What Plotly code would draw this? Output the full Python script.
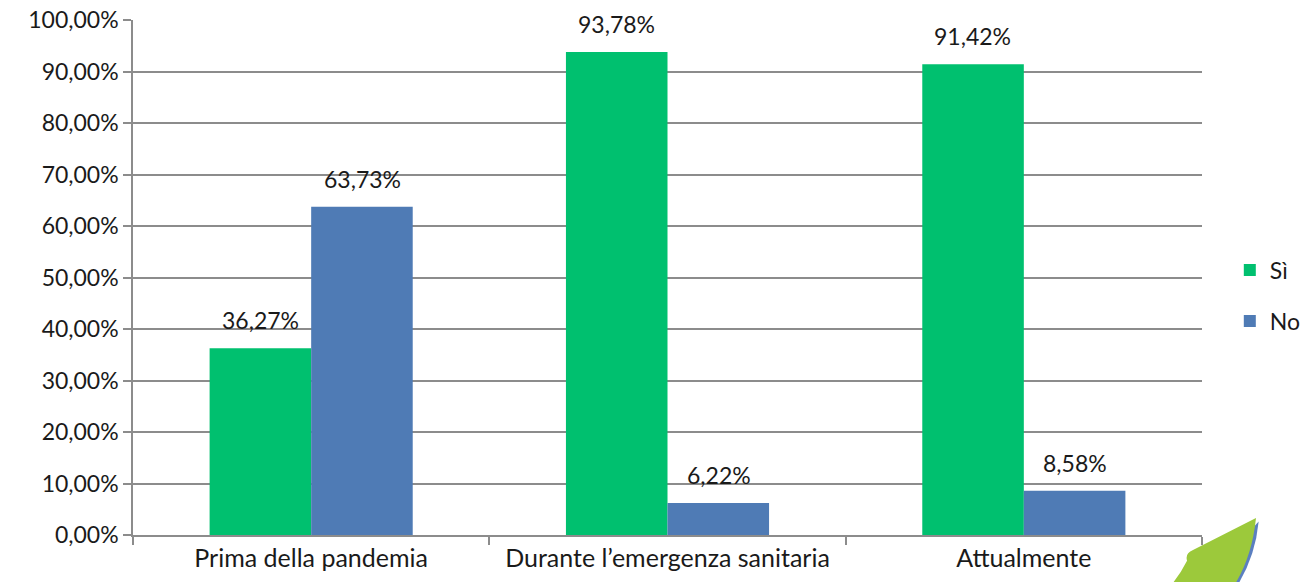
import plotly.graph_objects as go

categories = ["Prima della pandemia", "Durante l\u2019emergenza sanitaria", "Attualmente"]
si_values = [36.27, 93.78, 91.42]
no_values = [63.73, 6.22, 8.58]
y_ticks = [0, 10, 20, 30, 40, 50, 60, 70, 80, 90, 100]


def pct(v):
    return f"{v:.2f}".replace(".", ",") + "%"


FONT = "Lato, 'Noto Sans', sans-serif"
GRID = "#8c8c8c"

fig = go.Figure()
fig.add_trace(go.Bar(
    x=categories, y=si_values, name="S\u00ec",
    marker=dict(color="#00c06f", line=dict(width=0)),
    legendgroup="si",
))
fig.add_trace(go.Bar(
    x=categories, y=no_values, name="No",
    marker=dict(color="#4f7bb5", line=dict(width=0)),
    legendgroup="no",
))

# value labels above the bars (Excel-like offset)
for values, dx in ((si_values, -51), (no_values, 51)):
    for cat, v in zip(categories, values):
        fig.add_annotation(x=cat, y=v, text=pct(v), showarrow=False,
                           xshift=dx, yshift=28, yanchor="middle",
                           font=dict(size=23, color="#1a1a1a"))

# decorative leaf in the bottom-right corner
fig.add_shape(type="path", xref="paper", yref="paper", layer="below",
              path="M 1.053,0.026 Q 1.05,-0.04 1.034,-0.095 L 1.0,-0.095 Z",
              fillcolor="#5b7fc0", line=dict(width=0))
fig.add_shape(type="path", xref="paper", yref="paper", layer="below",
              path="M 1.0505,0.033 L 0.9916,-0.029 Q 0.984,-0.035 0.986,-0.05 "
                   "Q 0.98,-0.075 0.972,-0.095 L 1.031,-0.095 Q 1.047,-0.04 1.0505,0.033 Z",
              fillcolor="#9cc93b", line=dict(width=0))

fig.update_layout(
    width=1309, height=582,
    margin=dict(l=133, r=107, t=20, b=47),
    paper_bgcolor="white", plot_bgcolor="white",
    font=dict(family=FONT, size=23, color="#1a1a1a"),
    barmode="group", bargap=0.43, bargroupgap=0,
    legend=dict(xref="container", yref="container",
                x=0.9395, y=0.492, xanchor="left", yanchor="middle",
                font=dict(size=23), tracegroupgap=18,
                itemwidth=30),
    xaxis=dict(showline=True, linecolor=GRID, linewidth=1.5,
               ticks="outside", tickson="boundaries", ticklen=8,
               tickcolor=GRID, tickwidth=1.5, showgrid=False,
               tickfont=dict(size=25), automargin=False),
    yaxis=dict(range=[0, 100], tickvals=y_ticks,
               ticktext=[pct(v) for v in y_ticks],
               showline=True, linecolor=GRID, linewidth=1.5,
               showgrid=True, gridcolor=GRID, gridwidth=1.5,
               ticks="outside", ticklen=8, tickcolor=GRID, tickwidth=1.5,
               zeroline=False, automargin=False),
)

# drop the default 8px page margin so the figure sits at the window origin
fig.write_html("out.html", config={"displayModeBar": False},
               post_script="document.body.style.margin='0';")
